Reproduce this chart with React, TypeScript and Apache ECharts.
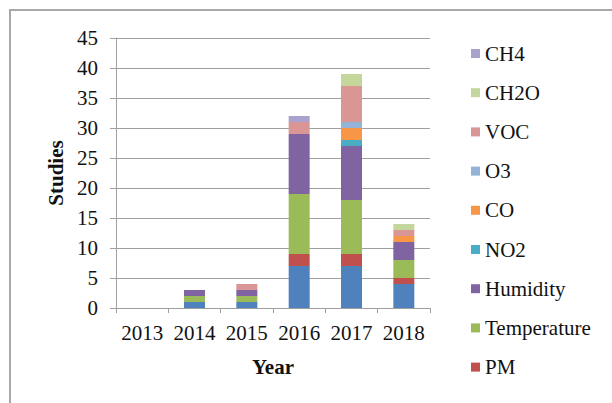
import React, { useEffect, useRef } from "react";
import * as echarts from "echarts";

const years = ["2013", "2014", "2015", "2016", "2017", "2018"];
const yTicks = { min: 0, max: 45, interval: 5 };

const co2 = [0, 1, 1, 7, 7, 4];
const pm = [0, 0, 0, 2, 2, 1];
const temperature = [0, 1, 1, 10, 9, 3];
const humidity = [0, 1, 1, 10, 9, 3];
const no2 = [0, 0, 0, 0, 1, 0];
const co = [0, 0, 0, 0, 2, 1];
const o3 = [0, 0, 0, 0, 1, 0];
const voc = [0, 0, 1, 2, 6, 1];
const ch2o = [0, 0, 0, 0, 2, 1];
const ch4 = [0, 0, 0, 1, 0, 0];

const seriesDefs = [
  { name: "CO2", data: co2, color: "#4F81BD" },
  { name: "PM", data: pm, color: "#C0504D" },
  { name: "Temperature", data: temperature, color: "#9BBB59" },
  { name: "Humidity", data: humidity, color: "#8064A2" },
  { name: "NO2", data: no2, color: "#4BACC6" },
  { name: "CO", data: co, color: "#F79646" },
  { name: "O3", data: o3, color: "#95B3D7" },
  { name: "VOC", data: voc, color: "#D99694" },
  { name: "CH2O", data: ch2o, color: "#C3D69B" },
  { name: "CH4", data: ch4, color: "#A9A2CC" },
];

const legendOrder = ["CH4", "CH2O", "VOC", "O3", "CO", "NO2", "Humidity", "Temperature", "PM"];

const FONT = "Liberation Serif";

export default function App() {
  const ref = useRef<HTMLDivElement>(null);
  useEffect(() => {
    if (!ref.current) return;
    const chart = echarts.init(ref.current, undefined, { renderer: "svg" });
    chart.setOption({
      animation: false,
      backgroundColor: "#ffffff",
      textStyle: { fontFamily: FONT },
      graphic: [
        {
          type: "rect",
          shape: { x: 10, y: 10, width: 700, height: 500 },
          style: { fill: "none", stroke: "#a8a8a8", lineWidth: 2 },
          silent: true,
        },
      ],
      grid: { left: 116, right: 182, top: 38, bottom: 95 },
      legend: {
        orient: "vertical",
        left: 471,
        top: 43,
        padding: 0,
        itemWidth: 9,
        itemHeight: 9,
        itemGap: 18.2,
        icon: "rect",
        data: legendOrder,
        textStyle: { fontFamily: FONT, fontSize: 21, color: "#111", lineHeight: 20 },
      },
      xAxis: {
        type: "category",
        data: years,
        name: "Year",
        nameLocation: "middle",
        nameGap: 48,
        nameTextStyle: { fontFamily: FONT, fontSize: 21, fontWeight: "bold", color: "#111" },
        axisLine: { lineStyle: { color: "#a0a0a0", width: 1 } },
        axisTick: { show: true, length: 5, lineStyle: { color: "#a0a0a0" } },
        axisLabel: { fontFamily: FONT, fontSize: 21, color: "#111", margin: 14, interval: 0 },
      },
      yAxis: {
        type: "value",
        min: yTicks.min,
        max: yTicks.max,
        interval: yTicks.interval,
        name: "Studies",
        nameLocation: "middle",
        nameGap: 50,
        nameTextStyle: { fontFamily: FONT, fontSize: 21, fontWeight: "bold", color: "#111" },
        axisLine: { show: true, lineStyle: { color: "#a0a0a0", width: 1 } },
        axisTick: { show: true, length: 6, lineStyle: { color: "#a0a0a0" } },
        axisLabel: { fontFamily: FONT, fontSize: 21, color: "#111", margin: 18 },
        splitLine: { lineStyle: { color: "#a0a0a0", width: 1 } },
      },
      series: seriesDefs.map((s) => ({
        name: s.name,
        type: "bar",
        stack: "total",
        barWidth: 21,
        data: s.data,
        itemStyle: { color: s.color },
      })),
    });
    return () => chart.dispose();
  }, []);
  return (
    <div
      ref={ref}
      style={{ position: "fixed", left: 0, top: 0, width: 612, height: 403, background: "#fff" }}
    />
  );
}
